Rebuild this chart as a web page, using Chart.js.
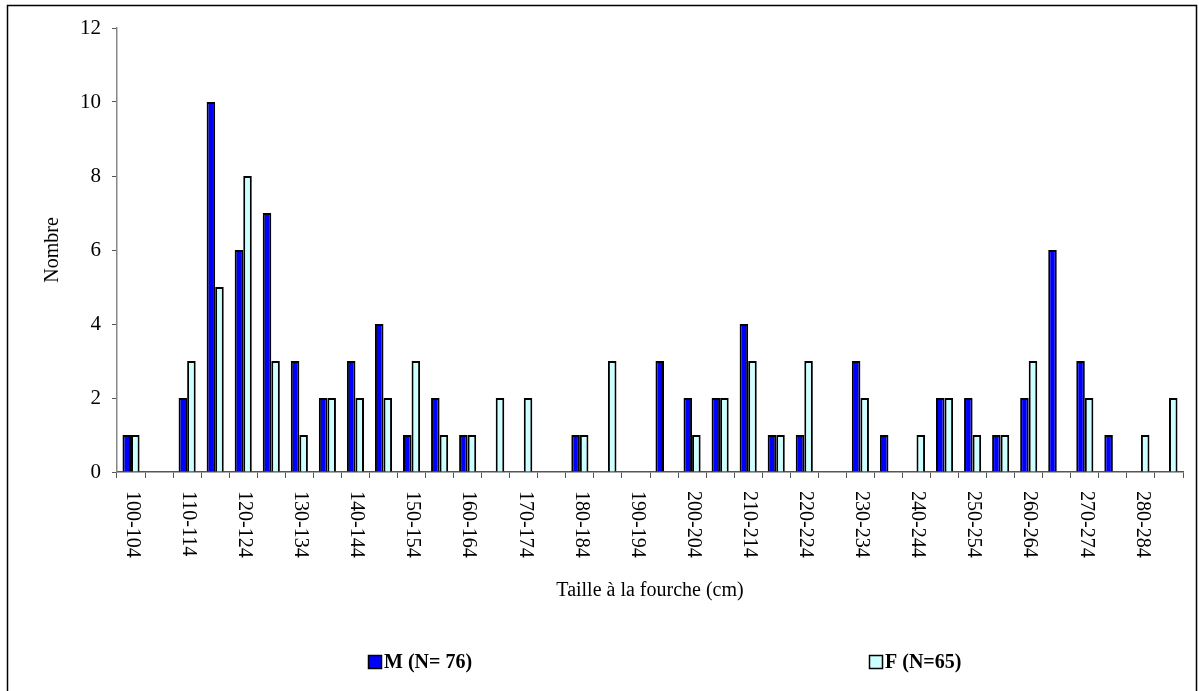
<!DOCTYPE html>
<html>
<head>
<meta charset="utf-8">
<script src="https://cdn.jsdelivr.net/npm/chart.js@4.4.0/dist/chart.umd.min.js"></script>
<style>
  html, body { margin: 0; padding: 0; background: #fff; }
  #wrap { width: 1199px; height: 691px; position: relative; }
</style>
</head>
<body>
<div id="wrap"><canvas id="c" width="1199" height="691"></canvas></div>
<script>
// ---- data ----
const categories = [
  '100-104','105-109','110-114','115-119','120-124','125-129','130-134','135-139',
  '140-144','145-149','150-154','155-159','160-164','165-169','170-174','175-179',
  '180-184','185-189','190-194','195-199','200-204','205-209','210-214','215-219',
  '220-224','225-229','230-234','235-239','240-244','245-249','250-254','255-259',
  '260-264','265-269','270-274','275-279','280-284','285-289'
];
const maleValues = [
  1, 0, 2, 10, 6, 7, 3, 2,
  3, 4, 1, 2, 1, 0, 0, 0,
  1, 0, 0, 3, 2, 2, 4, 1,
  1, 0, 3, 1, 0, 2, 2, 1,
  2, 6, 3, 1, 0, 0
];
const femaleValues = [
  1, 0, 3, 5, 8, 3, 1, 2,
  2, 2, 3, 1, 1, 2, 2, 0,
  1, 3, 0, 0, 1, 2, 3, 1,
  3, 0, 2, 0, 1, 2, 1, 1,
  3, 0, 2, 0, 1, 2
];
const seriesLabels = ['M (N= 76)', 'F (N=65)'];
const yTicks = [0, 2, 4, 6, 8, 10, 12];
const xTitle = 'Taille à la fourche (cm)';
const yTitle = 'Nombre';

const SERIF = '"Liberation Serif", "Times New Roman", Times, serif';

const framePlugin = {
  id: 'frame',
  beforeDraw(chart) {
    const ctx = chart.ctx;
    ctx.save();
    ctx.fillStyle = '#fff';
    ctx.fillRect(0, 0, chart.width, chart.height);
    ctx.strokeStyle = '#000';
    ctx.lineWidth = 1.5;
    ctx.strokeRect(7.5, 5.5, 1189, 690);
    ctx.restore();
  }
};

const xLabelPlugin = {
  id: 'xlabels',
  afterDraw(chart) {
    const ctx = chart.ctx;
    const xs = chart.scales.x;
    ctx.save();
    ctx.fillStyle = '#000';
    ctx.font = '20px ' + SERIF;
    ctx.textAlign = 'left';
    ctx.textBaseline = 'middle';
    chart.data.labels.forEach((lab, i) => {
      if (i % 2 !== 0) return;
      const x = xs.getPixelForValue(i);
      ctx.save();
      ctx.translate(x + 1, xs.top + 19);
      ctx.rotate(Math.PI / 2);
      ctx.fillText(lab, 0, 0);
      ctx.restore();
    });
    ctx.restore();
  }
};

const legendPlugin = {
  id: 'customLegend',
  afterDraw(chart) {
    const ctx = chart.ctx;
    const positions = [368, 869];
    ctx.save();
    ctx.font = 'bold 20px ' + SERIF;
    ctx.textBaseline = 'middle';
    ctx.textAlign = 'left';
    chart.data.datasets.forEach((ds, i) => {
      const bx = positions[i];
      const by = 655;
      ctx.fillStyle = ds.backgroundColor;
      ctx.fillRect(bx, by, 14, 14);
      ctx.strokeStyle = '#000';
      ctx.lineWidth = 1.5;
      ctx.strokeRect(bx + 0.5, by + 0.5, 13, 13);
      ctx.fillStyle = '#000';
      ctx.fillText(ds.label, bx + 16, by + 8);
    });
    ctx.restore();
  }
};

new Chart(document.getElementById('c'), {
  type: 'bar',
  data: {
    labels: categories,
    datasets: [
      {
        label: seriesLabels[0],
        data: maleValues,
        backgroundColor: '#0000FF',
        borderColor: '#000000',
        borderWidth: 2,
        categoryPercentage: 0.61,
        barPercentage: 1.0
      },
      {
        label: seriesLabels[1],
        data: femaleValues,
        backgroundColor: '#CCFFFF',
        borderColor: '#000000',
        borderWidth: 2,
        categoryPercentage: 0.61,
        barPercentage: 1.0
      }
    ]
  },
  options: {
    responsive: false,
    animation: false,
    devicePixelRatio: 1,
    layout: { padding: { left: 8, right: 16, top: 28, bottom: 80 } },
    plugins: {
      legend: { display: false },
      tooltip: { enabled: false }
    },
    scales: {
      x: {
        offset: true,
        grid: {
          offset: true,
          drawOnChartArea: false,
          drawTicks: true,
          tickLength: 6,
          color: '#555'
        },
        border: { display: true, color: '#555', width: 1.5 },
        ticks: { display: false, autoSkip: false },
        title: {
          display: true,
          text: xTitle,
          color: '#000',
          font: { family: SERIF, size: 20 },
          padding: { top: 0, bottom: 8 }
        },
        afterFit(scale) { scale.height = 691 - 80 - 472; }
      },
      y: {
        min: 0,
        max: 12,
        afterBuildTicks(scale) { scale.ticks = yTicks.map(v => ({ value: v })); },
        grid: {
          drawOnChartArea: false,
          drawTicks: true,
          tickLength: 5,
          color: '#555'
        },
        border: { display: true, color: '#888', width: 1.5 },
        ticks: {
          color: '#000',
          padding: 11,
          font: { family: SERIF, size: 21 }
        },
        title: {
          display: true,
          text: yTitle,
          color: '#000',
          font: { family: SERIF, size: 20 },
          padding: { top: 33, bottom: 0 }
        },
        afterFit(scale) { scale.width = 117 - 8; }
      }
    }
  },
  plugins: [framePlugin, xLabelPlugin, legendPlugin]
});
</script>
</body>
</html>
